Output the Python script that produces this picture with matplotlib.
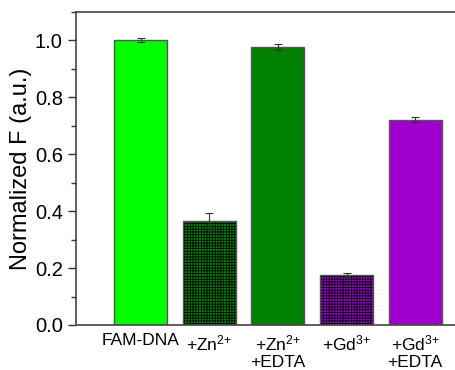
import matplotlib
matplotlib.use("Agg")
import matplotlib.pyplot as plt
from matplotlib.ticker import MultipleLocator

plt.rcParams['font.family'] = ['Liberation Sans', 'DejaVu Sans']
plt.rcParams['mathtext.fontset'] = 'custom'
plt.rcParams['mathtext.rm'] = 'Liberation Sans'
plt.rcParams['mathtext.default'] = 'regular'
plt.rcParams['hatch.linewidth'] = 0.55

# data
labels = ["FAM-DNA", "+Zn$^{2}$$^{+}$", "+Zn$^{2}$$^{+}$\n+EDTA",
          "+Gd$^{3}$$^{+}$", "+Gd$^{3}$$^{+}$\n+EDTA"]
values = [1.0, 0.367, 0.977, 0.175, 0.722]
errors = [0.007, 0.027, 0.012, 0.007, 0.009]
colors = ["#00ff00", "#008000", "#008000", "#9900cc", "#a000cc"]
hatches = [None, "++++++", None, "++++++", None]

fig = plt.figure(figsize=(4.56, 3.70), dpi=100)
ax = fig.add_axes([76/456, 45/370, 1.0 - 76/456 + 0.01, 313/370])

x = list(range(len(values)))
for i in x:
    # fill + hatch in black, then the grey outline on top
    ax.bar(i, values[i], width=0.77, facecolor=colors[i], edgecolor="black",
           linewidth=0, hatch=hatches[i], zorder=2)
    ax.bar(i, values[i], width=0.77, facecolor="none", edgecolor="#555555",
           linewidth=1.0, zorder=2.5)
ax.errorbar(x, values, yerr=errors, fmt="none", ecolor="#333333",
            elinewidth=0.8, capsize=3, capthick=0.8, zorder=3)

ax.set_xlim(-0.94, 4.66)
ax.set_ylim(0, 1.1)
ax.set_xticks(x)
ax.set_xticklabels(labels, fontsize=12.5, linespacing=1.15)
ax.tick_params(axis="x", length=0, pad=6)
ax.yaxis.set_major_locator(MultipleLocator(0.2))
ax.yaxis.set_minor_locator(MultipleLocator(0.1))
ax.tick_params(axis="y", which="major", direction="out", length=6, width=1, labelsize=14.5, colors="#333333", labelcolor="black")
ax.tick_params(axis="y", which="minor", direction="out", length=3.5, width=1, colors="#333333")
ax.set_ylabel("Normalized F (a.u.)", fontsize=17, labelpad=2)
for s in ["left", "bottom", "top"]:
    ax.spines[s].set_linewidth(1.2)
    ax.spines[s].set_color("#444444")
ax.spines["right"].set_visible(False)

fig.savefig("out.png", dpi=100)
